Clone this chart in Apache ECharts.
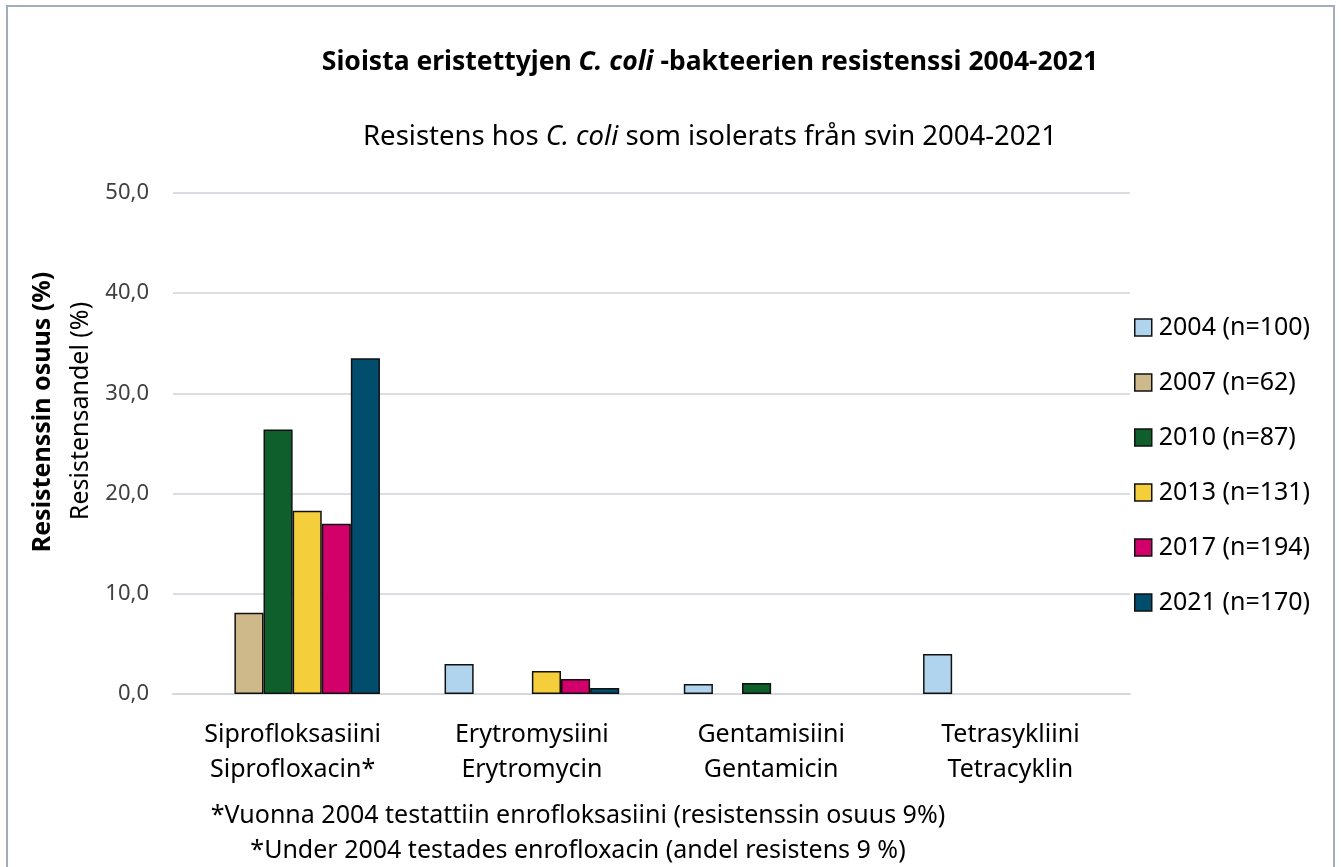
<!DOCTYPE html>
<html>
<head>
<meta charset="utf-8" />
<title>C. coli resistenssi</title>
<script src="https://cdn.jsdelivr.net/npm/echarts@6/dist/echarts.min.js"></script>
<style>
  html, body { margin: 0; padding: 0; background: #fff; }
  #chart { width: 1341px; height: 867px; }
</style>
</head>
<body>
<div id="chart"></div>
<script type="text/javascript">
  var categories = ['Siprofloksasiini\nSiprofloxacin*', 'Erytromysiini\nErytromycin', 'Gentamisiini\nGentamicin', 'Tetrasykliini\nTetracyklin'];
  var seriesNames = ['2004 (n=100)', '2007 (n=62)', '2010 (n=87)', '2013 (n=131)', '2017 (n=194)', '2021 (n=170)'];
  var colors = ['#b0d4ee', '#cdb98a', '#0e5f2c', '#f5cf3b', '#d1006b', '#004d6e'];
  var v2004 = [null, 3.0, 1.0, 4.0];
  var v2007 = [8.1, null, null, null];
  var v2010 = [26.4, null, 1.1, null];
  var v2013 = [18.3, 2.3, null, null];
  var v2017 = [17.0, 1.5, null, null];
  var v2021 = [33.5, 0.6, null, null];
  var allValues = [v2004, v2007, v2010, v2013, v2017, v2021];

  var font = '"Noto Sans", "Open Sans", sans-serif';
  var myChart = echarts.init(document.getElementById('chart'));

  var series = seriesNames.map(function (name, i) {
    return {
      name: name,
      type: 'bar',
      barGap: 0,
      barCategoryGap: '27%',
      itemStyle: { color: colors[i], borderColor: '#111', borderWidth: 1.5 },
      data: allValues[i]
    };
  });

  var option = {
    animation: false,
    textStyle: { fontFamily: font },
    title: [
      {
        left: 705, top: 44, textAlign: 'center',
        text: '{b|Sioista eristettyjen }{bi|C. coli}{b| -bakteerien resistenssi 2004-2021}',
        textStyle: {
          fontFamily: font, fontWeight: 'bold', fontSize: 26.5, color: '#000',
          rich: {
            b: { fontFamily: font, fontWeight: 'bold', fontSize: 26.5, color: '#000' },
            bi: { fontFamily: font, fontWeight: 'bold', fontStyle: 'italic', fontSize: 26.5, color: '#000' }
          }
        }
      },
      {
        left: 705, top: 118, textAlign: 'center',
        text: '{n|Resistens hos }{i|C. coli}{n| som isolerats från svin 2004-2021}',
        textStyle: {
          fontFamily: font, fontWeight: 'normal', fontSize: 27.5, color: '#000',
          rich: {
            n: { fontFamily: font, fontWeight: 'normal', fontSize: 27.5, color: '#000' },
            i: { fontFamily: font, fontWeight: 'normal', fontStyle: 'italic', fontSize: 27.5, color: '#000' }
          }
        }
      }
    ],
    legend: {
      orient: 'vertical',
      left: 1134,
      top: 315,
      padding: 0,
      itemWidth: 17,
      itemHeight: 17,
      itemGap: 30,
      icon: 'rect',
      itemStyle: { borderColor: '#111', borderWidth: 1.5 },
      textStyle: { fontFamily: font, fontSize: 25, color: '#000', padding: [0, 0, 0, 2] },
      data: seriesNames
    },
    grid: { left: 173, right: 211, top: 193, bottom: 173 },
    xAxis: {
      type: 'category',
      data: categories,
      axisLine: { lineStyle: { color: '#d6d6de', width: 2 } },
      axisTick: { show: false },
      axisLabel: { fontFamily: font, fontSize: 25, color: '#000', lineHeight: 35, margin: 23 }
    },
    yAxis: {
      type: 'value',
      min: 0, max: 50, interval: 10,
      axisLabel: {
        fontFamily: font, fontSize: 22, color: '#404040', margin: 24,
        formatter: function (v) { return v.toFixed(1).replace('.', ','); }
      },
      splitLine: { lineStyle: { color: '#dcdce3', width: 2 } }
    },
    graphic: [
      {
        type: 'rect',
        shape: { x: 7, y: 6, width: 1327, height: 880 },
        style: { fill: 'none', stroke: '#a3acbc', lineWidth: 2 }
      },
      {
        type: 'text', x: 43, y: 412, rotation: Math.PI / 2,
        style: { text: 'Resistenssin osuus (%)', fontFamily: font, fontWeight: 'bold', fontSize: 25, fill: '#000', align: 'center', verticalAlign: 'middle' }
      },
      {
        type: 'text', x: 81, y: 411, rotation: Math.PI / 2,
        style: { text: 'Resistensandel (%)', fontFamily: font, fontSize: 25, fill: '#000', align: 'center', verticalAlign: 'middle' }
      },
      {
        type: 'text', x: 578, y: 816,
        style: { text: '*Vuonna 2004 testattiin enrofloksasiini (resistenssin osuus 9%)', fontFamily: font, fontSize: 25, fill: '#000', align: 'center', verticalAlign: 'middle' }
      },
      {
        type: 'text', x: 578, y: 851,
        style: { text: '*Under 2004 testades enrofloxacin (andel resistens 9 %)', fontFamily: font, fontSize: 25, fill: '#000', align: 'center', verticalAlign: 'middle' }
      }
    ],
    series: series
  };

  myChart.setOption(option);
</script>
</body>
</html>
